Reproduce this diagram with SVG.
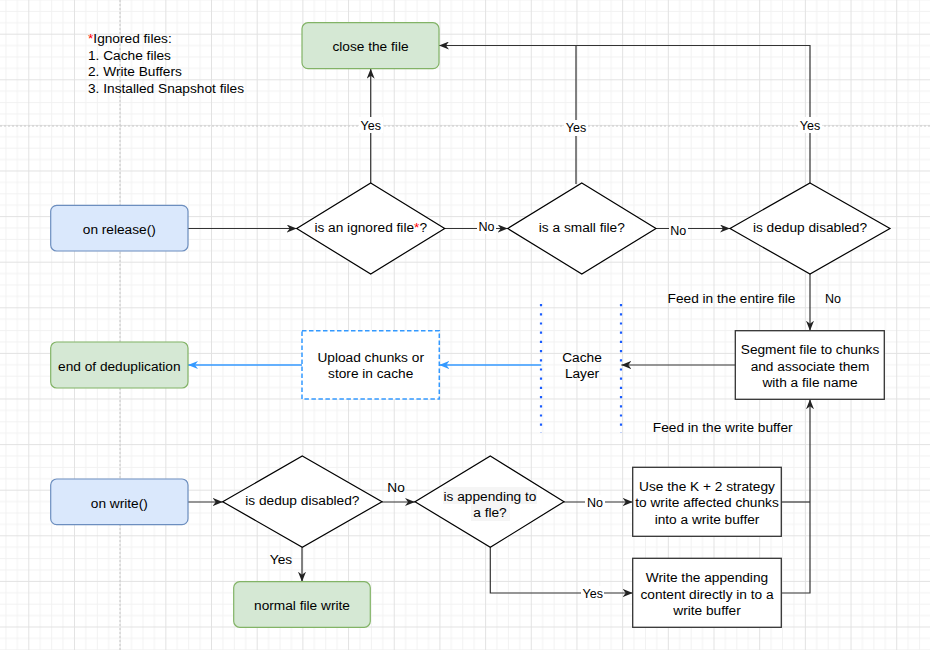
<svg xmlns="http://www.w3.org/2000/svg" width="930" height="650" viewBox="0 0 930 650">
<defs>
<pattern id="grid" x="28.3" y="33.7" width="45.68" height="45.6" patternUnits="userSpaceOnUse">
<rect x="11.42" y="0" width="0.9" height="45.6" fill="#f1f1f1"/>
<rect x="22.84" y="0" width="0.9" height="45.6" fill="#f1f1f1"/>
<rect x="34.26" y="0" width="0.9" height="45.6" fill="#f1f1f1"/>
<rect x="0" y="11.4" width="45.68" height="0.9" fill="#f1f1f1"/>
<rect x="0" y="22.8" width="45.68" height="0.9" fill="#f1f1f1"/>
<rect x="0" y="34.2" width="45.68" height="0.9" fill="#f1f1f1"/>
<rect x="0" y="0" width="1" height="45.6" fill="#e2e2e2"/>
<rect x="0" y="0" width="45.68" height="1" fill="#e2e2e2"/>
</pattern>
<marker id="arr" markerUnits="userSpaceOnUse" markerWidth="10" markerHeight="8" viewBox="0 0 10 8" refX="10" refY="4" orient="auto">
<path d="M0,0 L10,4 L0,8 L3,4 Z" fill="#222"/>
</marker>
<marker id="arrb" markerUnits="userSpaceOnUse" markerWidth="10" markerHeight="8" viewBox="0 0 10 8" refX="10" refY="4" orient="auto">
<path d="M0,0 L10,4 L0,8 L3,4 Z" fill="#3399ff"/>
</marker>
<style>
text{font-family:"Liberation Sans",Arial,sans-serif;font-size:13.7px;fill:#000;text-anchor:middle}
.lbl{font-size:12.5px}
.lft{text-anchor:start}
.red{fill:#ff0000}
.green{fill:#d5e8d4;stroke:#82b366;stroke-width:1.2}
.blue{fill:#dae8fc;stroke:#6c8ebf;stroke-width:1.2}
.box{fill:#fff;stroke:#333;stroke-width:1.3}
.dia{fill:#fff;stroke:#000;stroke-width:1.2}
.edge{fill:none;stroke:#333;stroke-width:1.2}
.bedge{fill:none;stroke:#3399ff;stroke-width:1.5}
.bg{fill:#fff}
.tbg{fill:#f5f5f5}
.page{stroke:#c8c8c8;stroke-width:1;stroke-dasharray:2 2;fill:none}
.cache{stroke:#1a5cff;stroke-width:2.2;stroke-dasharray:2.2 7;fill:none}
</style>
</defs>
<rect width="930" height="650" fill="#fff"/>
<rect width="930" height="650" fill="url(#grid)"/>
<path class="page" d="M120,0 V650 M0,126 H930"/>

<g id="note">
<text class="lft" x="88" y="43"><tspan class="red">*</tspan>Ignored files:</text>
<text class="lft" x="88" y="59.5">1. Cache files</text>
<text class="lft" x="88" y="76">2. Write Buffers</text>
<text class="lft" x="88" y="92.5">3. Installed Snapshot files</text>
</g>

<g id="connectors">
<path class="edge" d="M188,228.5 H296.7" marker-end="url(#arr)"/>
<path class="edge" d="M370.7,183 V68.7" marker-end="url(#arr)"/>
<path class="edge" d="M444.7,228.5 H507.7" marker-end="url(#arr)"/>
<path class="edge" d="M576,184 V45.5 H439" marker-end="url(#arr)"/>
<path class="edge" d="M810,183 V45.5 H576"/>
<path class="edge" d="M656,228.5 H730" marker-end="url(#arr)"/>
<path class="edge" d="M810,274 V330.7" marker-end="url(#arr)"/>
<path class="edge" d="M735.3,365 H621.3" marker-end="url(#arr)"/>
<path class="bedge" d="M541.3,365 H439.3" marker-end="url(#arrb)"/>
<path class="bedge" d="M302,365 H188" marker-end="url(#arrb)"/>
<path class="edge" d="M188,502 H222.7" marker-end="url(#arr)"/>
<path class="edge" d="M382,502 H415" marker-end="url(#arr)"/>
<path class="edge" d="M302,547.3 V581.7" marker-end="url(#arr)"/>
<path class="edge" d="M564,502 H632.7" marker-end="url(#arr)"/>
<path class="edge" d="M490.3,547.3 V593 H632.7" marker-end="url(#arr)"/>
<path class="edge" d="M781.3,502 H810"/>
<path class="edge" d="M781.3,593 H810 V399.3" marker-end="url(#arr)"/>
<rect class="bg" x="359" y="117" width="24" height="16"/>
<text class="lbl" x="370.7" y="129.5">Yes</text>
<rect class="bg" x="564" y="120" width="24" height="16"/>
<text class="lbl" x="576" y="132">Yes</text>
<rect class="bg" x="798" y="117" width="24" height="16"/>
<text class="lbl" x="810" y="129.5">Yes</text>
<rect class="bg" x="477" y="220" width="19" height="14"/>
<text class="lbl" x="486.5" y="231.2">No</text>
<rect class="bg" x="669" y="223" width="19" height="14"/>
<text class="lbl" x="678.3" y="234.5">No</text>
<text x="731.5" y="303.3">Feed in the entire file</text>
<text class="lbl" x="833" y="302.8">No</text>
<text x="722.7" y="432">Feed in the write buffer</text>
<text x="396" y="491.5">No</text>
<text x="281" y="564.3">Yes</text>
<rect class="bg" x="585" y="495" width="20" height="14"/>
<text class="lbl" x="595" y="506.5">No</text>
<rect class="bg" x="581" y="586" width="23" height="14"/>
<text class="lbl" x="592.7" y="597.8">Yes</text>
</g>

<g id="close-file">
<rect class="green" x="302" y="22.7" width="137" height="46" rx="6"/>
<text x="370.5" y="50.7">close the file</text>
</g>

<g id="on-release">
<rect class="blue" x="50.7" y="205.3" width="137.3" height="45.7" rx="6"/>
<text x="119.3" y="233.6">on release()</text>
</g>

<g id="is-ignored">
<path class="dia" d="M370.7,183 L444.7,228.5 L370.7,274 L296.7,228.5 Z"/>
<text x="370.7" y="231.5">is an ignored file<tspan class="red">*</tspan>?</text>
</g>

<g id="is-small">
<path class="dia" d="M581.8,183 L656,228.5 L581.8,274 L507.7,228.5 Z"/>
<text x="581.8" y="231.5">is a small file?</text>
</g>

<g id="dedup-disabled-1">
<path class="dia" d="M810,183 L890,228.5 L810,274 L730,228.5 Z"/>
<text x="810" y="231.5">is dedup disabled?</text>
</g>

<g id="segment">
<rect class="box" x="735.3" y="330.7" width="149" height="68.6"/>
<text x="810" y="354.3">Segment file to chunks</text>
<text x="810" y="370.7">and associate them</text>
<text x="810" y="386.7">with a file name</text>
</g>

<g id="cache-layer">
<path class="cache" d="M541,304 V433 M621,304 V433"/>
<text x="582" y="362.3">Cache</text>
<text x="582" y="378.3">Layer</text>
</g>

<g id="upload">
<rect x="302" y="330.7" width="137.3" height="68.3" fill="#fff" stroke="#3399ff" stroke-width="1.5" stroke-dasharray="4.5 2.5"/>
<text x="370.7" y="362.3">Upload chunks or</text>
<text x="370.7" y="378.3">store in cache</text>
</g>

<g id="end-dedup">
<rect class="green" x="50.7" y="342" width="137.3" height="46" rx="6"/>
<text x="119.3" y="370.6">end of deduplication</text>
</g>

<g id="on-write">
<rect class="blue" x="50.7" y="479" width="137.3" height="45.7" rx="6"/>
<text x="119.3" y="507.6">on write()</text>
</g>

<g id="dedup-disabled-2">
<path class="dia" d="M302.3,456 L382,501.7 L302.3,547.3 L222.7,501.7 Z"/>
<text x="302.3" y="505.3">is dedup disabled?</text>
</g>

<g id="normal-write">
<rect class="green" x="233.7" y="581.7" width="136.6" height="45.6" rx="6"/>
<text x="302" y="610">normal file write</text>
</g>

<g id="is-appending">
<path class="dia" d="M490.3,456 L564,501.7 L490.3,547.3 L415,501.7 Z"/>
<rect class="tbg" x="443" y="487" width="94" height="17"/>
<rect class="tbg" x="471" y="504" width="39" height="17"/>
<text x="490" y="500.6">is appending to</text>
<text x="490" y="517.3">a fle?</text>
</g>

<g id="k2-strategy">
<rect class="box" x="632.7" y="467.3" width="148.6" height="69"/>
<text x="707" y="491">Use the K + 2 strategy</text>
<text x="707" y="507.3">to write affected chunks</text>
<text x="707" y="523.7">into a write buffer</text>
</g>

<g id="append-direct">
<rect class="box" x="632.7" y="558.3" width="148.6" height="69"/>
<text x="707" y="582.3">Write the appending</text>
<text x="707" y="598.7">content directly in to a</text>
<text x="707" y="614.7">write buffer</text>
</g>
</svg>
